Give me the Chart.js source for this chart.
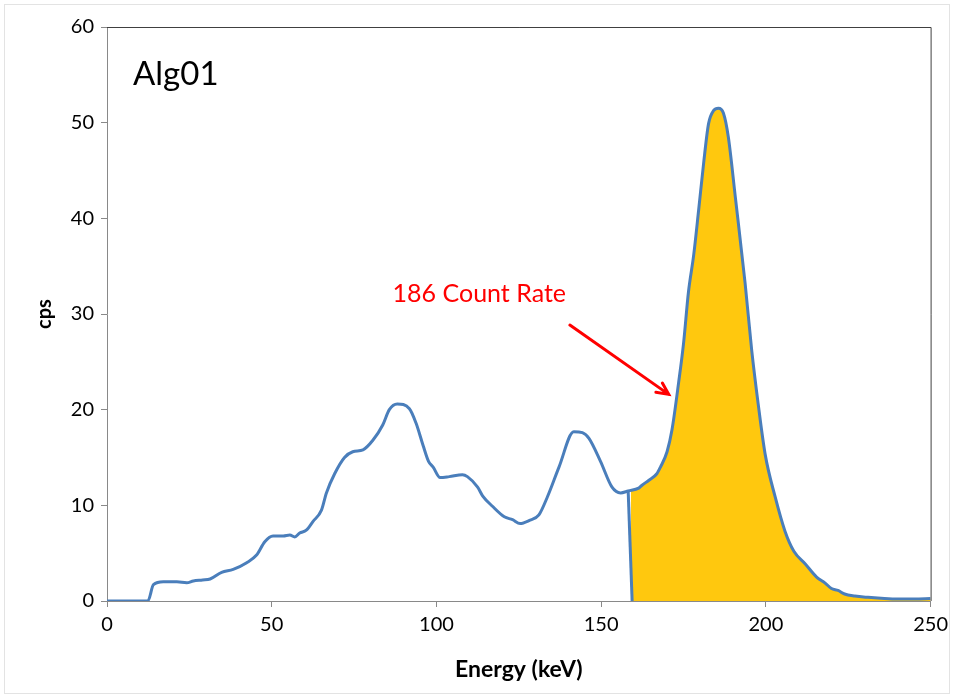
<!DOCTYPE html>
<html>
<head>
<meta charset="utf-8">
<script src="https://cdn.jsdelivr.net/npm/chart.js@4.4.0/dist/chart.umd.min.js"></script>
<style>
  html, body { margin: 0; padding: 0; background: #fff; }
  #wrap { width: 954px; height: 698px; }
</style>
</head>
<body>
<div id="wrap"><canvas id="spectrum" width="954" height="698"></canvas></div>
<script>
// spectrum (energy in keV, rate in cps)
const energy = [0, 12.4, 14.1, 17.1, 21.2, 24.2, 26.2, 29, 31.3, 34.8, 38.3, 42.4, 45.4, 47.9, 50.4, 53.5, 55.5, 57.0,
  58.5, 60.5, 62.5, 65.1, 66.6, 69.1, 72.1, 74.6, 77.7, 80.7, 83.7, 85.7, 88.1, 91.8, 93.8, 96, 97.6, 99.0, 101.1,
  103.9, 107.9, 109.4, 112.5, 114.0, 117.0, 120.6, 123.1, 125.4, 128.1, 131.1, 133.7, 137.2, 141.7, 144.3, 146.3,
  149.8, 153.3, 155.9, 158.2, 161.4, 162.4, 164.4, 166.9, 168.0, 170.0, 171.5, 173.5, 175.0, 176.5, 178.1, 179.6,
  181.1, 182.6, 184.1, 185.6, 187.1, 188.6, 190.7, 193.7, 195.7, 197.7, 199.8, 202.8, 205.8, 208.5, 211.9, 215.4,
  217.9, 219.9, 221.9, 223.9, 227.0, 231.0, 235.0, 240.1, 245.1, 250];
const cps = [0, 0, 1.7, 2.0, 2.0, 1.9, 2.1, 2.2, 2.3, 3.0, 3.3, 4.0, 4.8, 6.2, 6.8, 6.8, 6.9, 6.7,
  7.1, 7.4, 8.3, 9.5, 11.3, 13.3, 15.0, 15.6, 15.8, 16.8, 18.4, 20.0, 20.6, 20.1, 18.6, 16.2, 14.6, 14.0, 12.9,
  13.0, 13.2, 13.0, 11.9, 11.0, 9.9, 8.8, 8.5, 8.1, 8.4, 9.0, 10.9, 14.0, 17.7, 17.6, 17.0,
  14.6, 11.9, 11.3, 11.5, 11.8, 12.1, 12.6, 13.3, 14.0, 15.6, 17.9, 22.8, 26.9, 32.3, 36.2, 40.9,
  45.75, 49.9, 51.25, 51.5, 51.0, 48.5, 42.3, 33.2, 26.2, 20.5, 15.3, 10.9, 7.3, 5.2, 3.9, 2.5,
  1.9, 1.3, 1.1, 0.73, 0.52, 0.38, 0.28, 0.2, 0.2, 0.25];

// left edge of the 186 keV region of interest (top, bottom)
const roiEdgeEnergy = [158.2, 159.4];
const roiEdgeCps = [11.5, 0];
const roiFillStart = 159.0;

const xTicks = [0, 50, 100, 150, 200, 250];
const yTicks = [0, 10, 20, 30, 40, 50, 60];

const lineBlue = '#4A7EBB';
const roiYellow = '#FFC80E';
const axisGrey = '#898989';

const spectrumPts = energy.map((e, i) => ({ x: e, y: cps[i] }));
const roiPts = [{ x: roiFillStart, y: roiEdgeCps[0] }]
  .concat(spectrumPts.filter(p => p.x > roiFillStart));
const edgePts = roiEdgeEnergy.map((e, i) => ({ x: e, y: roiEdgeCps[i] }));

// labels and arrow, placed in data units
const notes = {
  name: { text: 'Alg01', x: 7.9, y: 55 },
  label: { text: '186 Count Rate', x: 86.7, y: 32.1 },
  arrow: { x1: 140.5, y1: 28.85, x2: 170.5, y2: 21.6 }
};

const decor = {
  id: 'decor',
  beforeDraw(chart) {
    const c = chart.ctx;
    c.save();
    c.fillStyle = '#fff';
    c.fillRect(0, 0, chart.width, chart.height);
    c.strokeStyle = '#e3e3e3';
    c.lineWidth = 1;
    c.strokeRect(4.5, 4.5, chart.width - 9, chart.height - 9);
    c.restore();
  },
  afterDraw(chart) {
    const c = chart.ctx;
    const a = chart.chartArea;
    const xs = chart.scales.x, ys = chart.scales.y;
    c.save();
    // plot frame, top and right
    c.strokeStyle = '#404040';
    c.lineWidth = 1;
    c.beginPath();
    c.moveTo(a.left, a.top + 0.5);
    c.lineTo(a.right + 0.5, a.top + 0.5);
    c.lineTo(a.right + 0.5, a.bottom);
    c.stroke();

    c.fillStyle = '#000';
    c.textBaseline = 'middle';
    c.font = '33px Lato';
    c.fillText(notes.name.text, xs.getPixelForValue(notes.name.x), ys.getPixelForValue(notes.name.y));
    c.fillStyle = '#ff0000';
    c.font = '25px Lato';
    c.fillText(notes.label.text, xs.getPixelForValue(notes.label.x), ys.getPixelForValue(notes.label.y));

    const x1 = xs.getPixelForValue(notes.arrow.x1), y1 = ys.getPixelForValue(notes.arrow.y1);
    const x2 = xs.getPixelForValue(notes.arrow.x2), y2 = ys.getPixelForValue(notes.arrow.y2);
    const ang = Math.atan2(y2 - y1, x2 - x1);
    c.strokeStyle = '#ff0000';
    c.lineWidth = 3;
    c.lineCap = 'round';
    c.beginPath();
    c.moveTo(x1, y1);
    c.lineTo(x2, y2);
    c.moveTo(x2 - 13 * Math.cos(ang - 0.45), y2 - 13 * Math.sin(ang - 0.45));
    c.lineTo(x2, y2);
    c.lineTo(x2 - 13 * Math.cos(ang + 0.45), y2 - 13 * Math.sin(ang + 0.45));
    c.stroke();
    c.restore();
  }
};

new Chart(document.getElementById('spectrum'), {
  type: 'scatter',
  data: {
    datasets: [
      {
        label: 'ROI',
        data: roiPts,
        order: 3,
        showLine: true,
        fill: 'origin',
        backgroundColor: roiYellow,
        borderColor: 'rgba(0,0,0,0)',
        borderWidth: 0,
        pointRadius: 0,
        cubicInterpolationMode: 'monotone'
      },
      {
        label: 'ROI edge',
        data: edgePts,
        order: 2,
        showLine: true,
        fill: false,
        borderColor: lineBlue,
        borderWidth: 3,
        pointRadius: 0
      },
      {
        label: 'Spectrum',
        data: spectrumPts,
        order: 1,
        showLine: true,
        fill: false,
        borderColor: lineBlue,
        borderWidth: 3,
        pointRadius: 0,
        cubicInterpolationMode: 'monotone'
      }
    ]
  },
  options: {
    responsive: false,
    animation: false,
    layout: { padding: { left: 0, top: 27, right: 23, bottom: 0 } },
    plugins: { legend: { display: false }, tooltip: { enabled: false } },
    scales: {
      x: {
        type: 'linear',
        min: 0,
        max: 250,
        afterFit(s) { s.height = 97; },
        afterBuildTicks(s) { s.ticks = xTicks.map(v => ({ value: v })); },
        border: { color: axisGrey, width: 1 },
        grid: { drawOnChartArea: false, drawTicks: true, tickLength: 6, color: axisGrey },
        ticks: { color: '#000', font: { family: 'Lato', size: 20 }, padding: 6, maxRotation: 0 },
        title: { display: true, text: 'Energy (keV)', color: '#000',
          font: { family: 'Lato', size: 23, weight: 'bold' }, padding: { top: 0, bottom: 15 } }
      },
      y: {
        type: 'linear',
        min: 0,
        max: 60,
        afterFit(s) { s.width = 107; },
        afterBuildTicks(s) { s.ticks = yTicks.map(v => ({ value: v })); },
        border: { color: axisGrey, width: 1 },
        grid: { drawOnChartArea: false, drawTicks: true, tickLength: 6, color: axisGrey },
        ticks: { color: '#000', font: { family: 'Lato', size: 20 }, padding: 7 },
        title: { display: true, text: 'cps', color: '#000',
          font: { family: 'Lato', size: 20, weight: 'bold' }, padding: { top: 33, bottom: 0 } }
      }
    }
  },
  plugins: [decor]
});
</script>
</body>
</html>
